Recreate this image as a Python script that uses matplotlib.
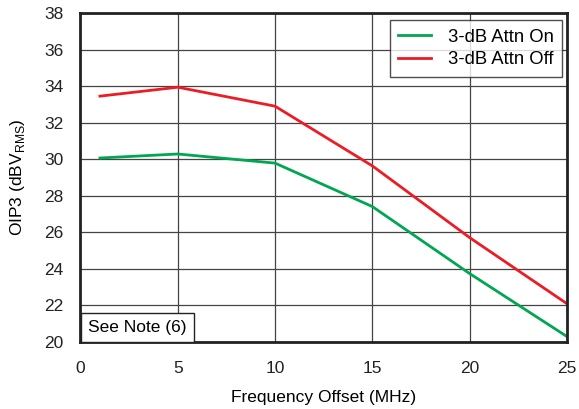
import matplotlib
matplotlib.use("Agg")
import matplotlib.pyplot as plt

plt.rcParams['font.family'] = ['Liberation Sans', 'DejaVu Sans']

# Dados
freq = [1, 5, 10, 15, 20, 25]
oip3_on = [30.08, 30.3, 29.8, 27.42, 23.75, 20.3]
oip3_off = [33.47, 33.96, 32.92, 29.65, 25.72, 22.1]

fs = 12.5

fig = plt.figure(figsize=(5.79, 4.09), dpi=100)
ax = fig.add_axes([0.139, 0.164, 0.840, 0.803])

ax.plot(freq, oip3_on, color='#00a651', lw=2, label='3-dB Attn On')
ax.plot(freq, oip3_off, color='#ed1c24', lw=2, label='3-dB Attn Off')

ax.set_xlim(0, 25)
ax.set_ylim(20, 38)
ax.set_xticks(range(0, 26, 5))
ax.set_yticks(range(20, 39, 2))
ax.grid(True, color='#444444', lw=0.9)
ax.tick_params(axis='y', length=0, labelsize=fs, pad=12, colors='#222222')
ax.tick_params(axis='x', length=0, labelsize=fs, pad=14, colors='#222222')
for s in ax.spines.values():
    s.set_linewidth(2)
    s.set_color('#222222')

ax.set_xlabel('Frequency Offset (MHz)', fontsize=fs, labelpad=10)
ax.set_ylabel(r'OIP3 (dBV$_\mathregular{RMS}$)', fontsize=fs, labelpad=13)

leg = ax.legend(loc='upper right', fontsize=13.3, frameon=True, fancybox=False,
                handlelength=1.8, handletextpad=0.9, borderpad=0.45,
                labelspacing=0.3, borderaxespad=0,
                bbox_to_anchor=(0.990, 0.979))
leg.get_frame().set_edgecolor('#222222')
leg.get_frame().set_linewidth(1)

ax.text(0.38, 20.8, 'See Note (6)', fontsize=fs, va='center', ha='left',
        bbox=dict(boxstyle='square,pad=0.42', fc='white', ec='#222222', lw=1))

fig.savefig('out.png', dpi=100)
